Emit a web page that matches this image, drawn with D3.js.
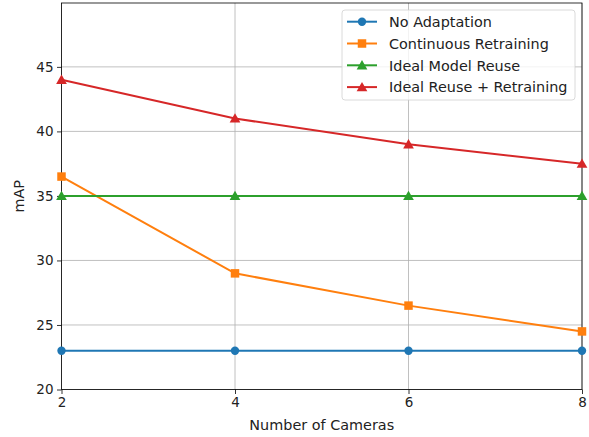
<!DOCTYPE html>
<html><head><meta charset="utf-8">
<script src="https://cdn.jsdelivr.net/npm/d3@7"></script>
<style>body{margin:0;background:#fff}svg{display:block}text{font-family:"DejaVu Sans",sans-serif;fill:#222}</style>
</head><body><svg id="c" width="589" height="437"></svg>
<script>
const cameras = [2, 4, 6, 8];
const noAdaptation = [23, 23, 23, 23];
const continuousRetraining = [36.5, 29, 26.5, 24.5];
const idealModelReuse = [35, 35, 35, 35];
const idealReuseRetraining = [44, 41, 39, 37.5];
const xTicks = [2, 4, 6, 8];
const yTicks = [20, 25, 30, 35, 40, 45];
const seriesNames = ["No Adaptation", "Continuous Retraining", "Ideal Model Reuse", "Ideal Reuse + Retraining"];

const series = [
  {name: seriesNames[0], values: noAdaptation, color: "#1f77b4", marker: "circle"},
  {name: seriesNames[1], values: continuousRetraining, color: "#ff7f0e", marker: "square"},
  {name: seriesNames[2], values: idealModelReuse, color: "#2ca02c", marker: "triangle"},
  {name: seriesNames[3], values: idealReuseRetraining, color: "#d62728", marker: "triangle"}
];

const L = 61.5, R = 582, T = 3, B = 389.5;
const svg = d3.select("#c");
const x = d3.scaleLinear().domain([2, 8]).range([L, R]);
const y = d3.scaleLinear().domain([20, 49.95]).range([B, T]);

// grid
svg.append("g").selectAll("line").data(xTicks).join("line")
  .attr("x1", d => x(d)).attr("x2", d => x(d)).attr("y1", T).attr("y2", B)
  .attr("stroke", "#b0b0b0").attr("stroke-width", 0.8);
svg.append("g").selectAll("line").data(yTicks).join("line")
  .attr("x1", L).attr("x2", R).attr("y1", d => y(d)).attr("y2", d => y(d))
  .attr("stroke", "#b0b0b0").attr("stroke-width", 0.8);

// axes
const xa = svg.append("g").attr("transform", `translate(0,${B})`)
  .call(d3.axisBottom(x).tickValues(xTicks).tickSize(4.5).tickPadding(3.5).tickFormat(d3.format("d")));
const ya = svg.append("g").attr("transform", `translate(${L},0)`)
  .call(d3.axisLeft(y).tickValues(yTicks).tickSize(4.5).tickPadding(3.5).tickFormat(d3.format("d")));
[xa, ya].forEach(a => {
  a.select(".domain").remove();
  a.selectAll("line").attr("stroke", "#000").attr("stroke-width", 0.8);
  a.selectAll("text").style("font-family", "DejaVu Sans").attr("font-size", 13.5).attr("fill", "#222");
});

// frame
svg.append("rect").attr("x", L).attr("y", T).attr("width", R - L).attr("height", B - T)
  .attr("fill", "none").attr("stroke", "#000").attr("stroke-width", 0.8);

const sym = {
  circle: d3.symbol().type(d3.symbolCircle).size(Math.PI * 4.2 * 4.2),
  square: d3.symbol().type(d3.symbolSquare).size(8.5 * 8.5),
  triangle: d3.symbol().type(d3.symbolTriangle).size(50)
};

const line = d3.line().x((d, i) => x(cameras[i])).y(d => y(d));
series.forEach(s => {
  const g = svg.append("g");
  g.append("path").attr("d", line(s.values)).attr("fill", "none")
    .attr("stroke", s.color).attr("stroke-width", 2);
  g.selectAll("path.m").data(s.values).join("path").attr("class", "m")
    .attr("transform", (d, i) => `translate(${x(cameras[i])},${y(d) + (s.marker === "triangle" ? 1 : 0)})`)
    .attr("d", sym[s.marker]()).attr("fill", s.color);
});

// labels
svg.append("text").attr("x", (L + R) / 2).attr("y", 430).attr("text-anchor", "middle")
  .attr("font-size", 14.4).text("Number of Cameras");
svg.append("text").attr("transform", `translate(23.5,${(T + B) / 2}) rotate(-90)`).attr("text-anchor", "middle")
  .attr("font-size", 14.4).text("mAP");

// legend
const lg = svg.append("g");
lg.append("rect").attr("x", 342).attr("y", 10).attr("width", 233).attr("height", 90).attr("rx", 3)
  .attr("fill", "#fff").attr("fill-opacity", 0.8).attr("stroke", "#d0d0d0").attr("stroke-width", 0.8);
series.forEach((s, i) => {
  const cy = 21.7 + i * 21.8;
  lg.append("line").attr("x1", 347).attr("x2", 377).attr("y1", cy).attr("y2", cy)
    .attr("stroke", s.color).attr("stroke-width", 2);
  lg.append("path").attr("transform", `translate(362,${cy + (s.marker === "triangle" ? 1 : 0)})`)
    .attr("d", sym[s.marker]()).attr("fill", s.color);
  lg.append("text").attr("x", 389).attr("y", cy + 5.2).attr("font-size", 14.4).text(s.name);
});
</script></body></html>
